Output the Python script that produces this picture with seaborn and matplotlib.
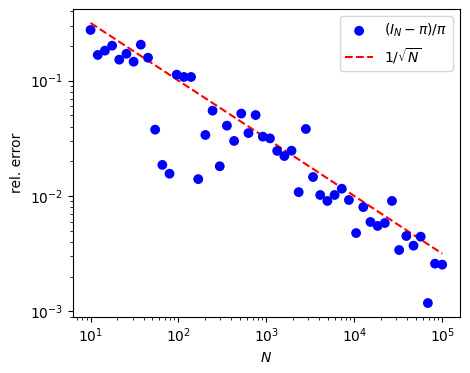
import numpy as np
import pandas as pd
import matplotlib
matplotlib.use("Agg")
import matplotlib.pyplot as plt
import seaborn as sns

N = np.logspace(1, 5, 50)
rel_error = [0.275, 0.167, 0.182, 0.201, 0.152, 0.171, 0.146, 0.205, 0.158, 0.0376,
             0.0186, 0.0156, 0.1127, 0.1076, 0.1076, 0.0140, 0.0338, 0.0549, 0.0181, 0.0407,
             0.0300, 0.0518, 0.0351, 0.0503, 0.0327, 0.0316, 0.0246, 0.0222, 0.0247, 0.0108,
             0.0381, 0.0146, 0.0102, 0.00906, 0.0102, 0.01156, 0.00923, 0.00477, 0.00801, 0.00595,
             0.0055, 0.00583, 0.00906, 0.0034, 0.0045, 0.00371, 0.00444, 0.00118, 0.00259, 0.00254]
ref_line = 1 / np.sqrt(N)

df = pd.DataFrame({"N": N, "err": rel_error, "ref": ref_line})

fig = plt.figure(figsize=(4.7, 3.73), dpi=100)
ax = fig.add_axes([0.1553, 0.150, 0.823, 0.826])

sns.scatterplot(data=df, x="N", y="err", ax=ax, color="blue", s=50,
                edgecolor="none", label=r"$(I_N-\pi)/\pi$", zorder=3)
sns.lineplot(data=df, x="N", y="ref", ax=ax, color="red", linestyle="--",
             label=r"$1/\sqrt{N}$", zorder=2)

ax.set_xscale("log")
ax.set_yscale("log")
ax.set_xlabel(r"$N$")
ax.set_ylabel("rel. error")
ax.legend(loc="upper right")

fig.savefig("out.png", dpi=100)
